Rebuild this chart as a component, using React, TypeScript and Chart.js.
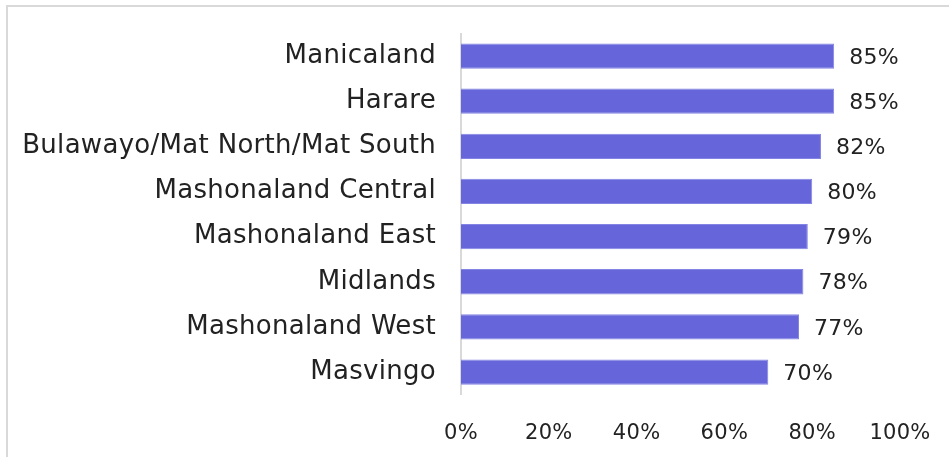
import React, { useEffect, useRef } from "react";
import { Chart, registerables } from "chart.js";
Chart.register(...registerables);

const categories = [
  "Manicaland",
  "Harare",
  "Bulawayo/Mat North/Mat South",
  "Mashonaland Central",
  "Mashonaland East",
  "Midlands",
  "Mashonaland West",
  "Masvingo",
];
const values = [85, 85, 82, 80, 79, 78, 77, 70];
const xTicks = [0, 20, 40, 60, 80, 100];

const FONT = "'DejaVu Sans', sans-serif";

const spacing = {
  id: "spacing",
  beforeDraw(chart: any) {
    chart.ctx.letterSpacing = "0.3px";
  },
};

const valueLabels = {
  id: "valueLabels",
  afterDatasetsDraw(chart: any) {
    const ctx = chart.ctx;
    const meta = chart.getDatasetMeta(0);
    ctx.save();
    ctx.font = `normal 22px ${FONT}`;
    ctx.fillStyle = "#222";
    ctx.textAlign = "left";
    ctx.textBaseline = "middle";
    meta.data.forEach((bar: any, i: number) => {
      ctx.fillText(values[i] + "%", bar.x + 15, bar.y + 2);
    });
    ctx.restore();
  },
};

export default function App() {
  const ref = useRef<HTMLCanvasElement>(null);
  useEffect(() => {
    const chart = new Chart(ref.current!, {
      type: "bar",
      data: {
        labels: categories,
        datasets: [
          {
            data: values,
            backgroundColor: "#6666DA",
            borderColor: "#8484E4",
            borderWidth: 1,
            categoryPercentage: 0.56,
            barPercentage: 1,
          },
        ],
      },
      options: {
        indexAxis: "y",
        responsive: false,
        animation: false,
        layout: { padding: { top: 33.5, right: 49, left: 0, bottom: 0 } },
        plugins: { legend: { display: false }, tooltip: { enabled: false } },
        scales: {
          x: {
            min: 0,
            max: 100,
            afterBuildTicks: (s: any) => {
              s.ticks = xTicks.map((v) => ({ value: v }));
            },
            afterFit: (s: any) => {
              s.height = 62.4;
              s.paddingLeft = 0;
              s.paddingRight = 0;
            },
            grid: { display: false, drawTicks: false },
            border: { display: false },
            ticks: {
              padding: 26,
              color: "#222",
              font: { family: FONT, size: 21, weight: "normal" },
              callback: (v: any) => v + "%",
            },
          },
          y: {
            afterFit: (s: any) => {
              s.width = 461;
              s.paddingTop = 0;
              s.paddingBottom = 0;
            },
            grid: { display: false, drawTicks: false },
            border: { display: true, color: "#d9d9d9", width: 2 },
            ticks: {
              padding: 25,
              color: "#222",
              font: { family: FONT, size: 26, weight: "normal" },
            },
          },
        },
      },
      plugins: [spacing, valueLabels],
    });
    return () => chart.destroy();
  }, []);
  return (
    <div style={{ position: "absolute", left: 0, top: 0, width: 949, height: 457, overflow: "hidden", background: "#fff" }}>
      <div
        style={{
          position: "absolute",
          left: 6,
          top: 5,
          width: 1200,
          height: 1200,
          border: "2px solid #d9d9d9",
          boxSizing: "border-box",
        }}
      />
      <canvas ref={ref} width={949} height={457} style={{ position: "absolute", left: 0, top: 0 }} />
    </div>
  );
}
